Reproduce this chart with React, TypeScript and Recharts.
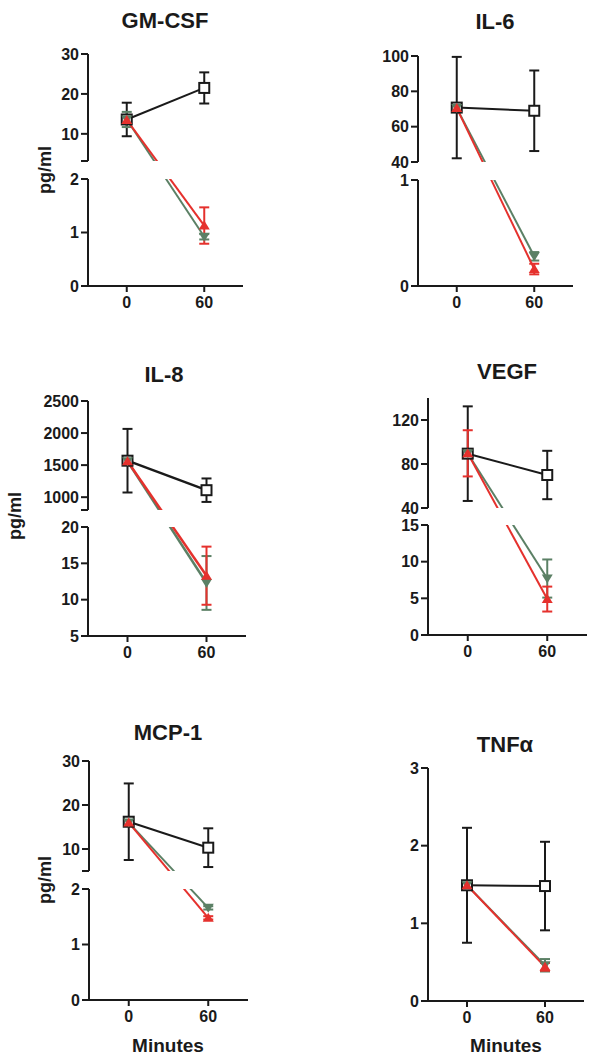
import React from 'react';
import { LineChart, Line, XAxis, YAxis, ErrorBar, ReferenceArea, ReferenceLine } from 'recharts';

const minutes = [0, 60];

// GM-CSF
const gmcsfCtrl = [13.6, 21.5];
const gmcsfCtrlSd = [4.2, 3.9];
const gmcsfRed = [13.5, 1.13];
const gmcsfRedSd = [0.8, 0.34];
const gmcsfGreen = [13.6, 0.92];
const gmcsfGreenSd = [1.9, 0.05];

// IL-6
const il6Ctrl = [70.8, 69];
const il6CtrlSd = [28.7, 22.8];
const il6Red = [70.5, 0.16];
const il6RedSd = [1, 0.05];
const il6Green = [70.5, 0.28];
const il6GreenSd = [1, 0.04];

// IL-8
const il8Ctrl = [1569, 1109];
const il8CtrlSd = [496, 183];
const il8Red = [1560, 13.3];
const il8RedSd = [20, 4.0];
const il8Green = [1560, 12.3];
const il8GreenSd = [20, 3.7];

// VEGF
const vegfCtrl = [89.4, 70];
const vegfCtrlSd = [43, 22];
const vegfRed = [89.7, 4.9];
const vegfRedSd = [21, 1.7];
const vegfGreen = [89.5, 7.7];
const vegfGreenSd = [3, 2.6];

// MCP-1
const mcpCtrl = [16.2, 10.3];
const mcpCtrlSd = [8.7, 4.4];
const mcpRed = [16, 1.48];
const mcpRedSd = [0.5, 0.03];
const mcpGreen = [16, 1.66];
const mcpGreenSd = [0.5, 0.03];

// TNFa
const tnfCtrl = [1.49, 1.48];
const tnfCtrlSd = [0.74, 0.57];
const tnfRed = [1.49, 0.44];
const tnfRedSd = [0.05, 0.05];
const tnfGreen = [1.49, 0.46];
const tnfGreenSd = [0.05, 0.08];

// y ticks (labelled) and unlabelled caps at the axis break
const gmcsfTicks = [0, 1, 2, 10, 20, 30];
const gmcsfCaps = [3.2];
const il6Ticks = [0, 1, 40, 60, 80, 100];
const il8Ticks = [5, 10, 15, 20, 1000, 1500, 2000, 2500];
const il8Caps = [800];
const vegfTicks = [0, 5, 10, 15, 40, 80, 120];
const mcpTicks = [0, 1, 2, 10, 20, 30];
const mcpCaps = [5];
const tnfTicks = [0, 1, 2, 3];

const INK = '#1a1a1a';
const RED = '#e5312d';
const GREEN = '#5b8065';
const FONT = '"Liberation Sans", Arial, sans-serif';

type Seg = [number, number];
interface Axis { bot: Seg; hb: number; top?: Seg; gap?: number; ht?: number }
interface Panel {
  title: string; col: number; plotLeft: number; plotRight: number; plotTop: number;
  axis: Axis; ticks: number[]; caps: number[];
  ctrl: number[]; ctrlSd: number[]; red: number[]; redSd: number[]; green: number[]; greenSd: number[];
  lw: number;
}

const panels: Panel[] = [
  { title: 'GM-CSF', col: 0, plotLeft: 88, plotRight: 243, plotTop: 54,
    axis: { bot: [0, 2], hb: 107, top: [3.2, 30], gap: 18, ht: 107 }, ticks: gmcsfTicks, caps: gmcsfCaps,
    ctrl: gmcsfCtrl, ctrlSd: gmcsfCtrlSd, red: gmcsfRed, redSd: gmcsfRedSd, green: gmcsfGreen, greenSd: gmcsfGreenSd, lw: 2 },
  { title: 'IL-6', col: 1, plotLeft: 418, plotRight: 573, plotTop: 56,
    axis: { bot: [0, 1], hb: 106, top: [40, 100], gap: 18, ht: 106 }, ticks: il6Ticks, caps: [],
    ctrl: il6Ctrl, ctrlSd: il6CtrlSd, red: il6Red, redSd: il6RedSd, green: il6Green, greenSd: il6GreenSd, lw: 2 },
  { title: 'IL-8', col: 0, plotLeft: 88, plotRight: 246, plotTop: 401,
    axis: { bot: [5, 20], hb: 109, top: [800, 2500], gap: 17, ht: 109 }, ticks: il8Ticks, caps: il8Caps,
    ctrl: il8Ctrl, ctrlSd: il8CtrlSd, red: il8Red, redSd: il8RedSd, green: il8Green, greenSd: il8GreenSd, lw: 2.5 },
  { title: 'VEGF', col: 1, plotLeft: 428, plotRight: 587, plotTop: 398,
    axis: { bot: [0, 15], hb: 110, top: [40, 140], gap: 17, ht: 110 }, ticks: vegfTicks, caps: [],
    ctrl: vegfCtrl, ctrlSd: vegfCtrlSd, red: vegfRed, redSd: vegfRedSd, green: vegfGreen, greenSd: vegfGreenSd, lw: 2 },
  { title: 'MCP-1', col: 0, plotLeft: 89, plotRight: 248, plotTop: 761,
    axis: { bot: [0, 2], hb: 111, top: [5, 30], gap: 18, ht: 110 }, ticks: mcpTicks, caps: mcpCaps,
    ctrl: mcpCtrl, ctrlSd: mcpCtrlSd, red: mcpRed, redSd: mcpRedSd, green: mcpGreen, greenSd: mcpGreenSd, lw: 2 },
  { title: 'TNF\u03b1', col: 1, plotLeft: 428, plotRight: 584, plotTop: 768,
    axis: { bot: [0, 3], hb: 233 }, ticks: tnfTicks, caps: [],
    ctrl: tnfCtrl, ctrlSd: tnfCtrlSd, red: tnfRed, redSd: tnfRedSd, green: tnfGreen, greenSd: tnfGreenSd, lw: 2 },
];

// piecewise (broken) axis: value -> position on the axis
const inTop = (ax: Axis, v: number) => !!ax.top && v > ax.bot[1];
const unit = (ax: Axis, v: number) =>
  inTop(ax, v) ? ax.ht! / (ax.top![1] - ax.top![0]) : ax.hb / (ax.bot[1] - ax.bot[0]);
const toAxis = (ax: Axis, v: number) =>
  inTop(ax, v) ? ax.hb + ax.gap! + (v - ax.top![0]) * unit(ax, v) : (v - ax.bot[0]) * unit(ax, v);

const Square = (props: any) => {
  const { cx, cy } = props;
  if (cx == null || cy == null) return null;
  return <rect x={cx - 5} y={cy - 5} width={10} height={10} fill="#fff" stroke={INK} strokeWidth={2} />;
};
const TriUp = (props: any) => {
  const { cx, cy } = props;
  if (cx == null || cy == null) return null;
  return <path d={`M${cx},${cy - 5} L${cx + 5.5},${cy + 4} L${cx - 5.5},${cy + 4} Z`} fill={RED} />;
};
const TriDown = (props: any) => {
  const { cx, cy } = props;
  if (cx == null || cy == null) return null;
  return <path d={`M${cx},${cy + 5} L${cx + 5.5},${cy - 4} L${cx - 5.5},${cy - 4} Z`} fill={GREEN} />;
};

const tickStyle = { fill: INK, fontSize: 16, fontWeight: 'bold', fontFamily: FONT };

const PanelChart = ({ p }: { p: Panel }) => {
  const ax = p.axis;
  const total = ax.hb + (ax.top ? ax.gap! + ax.ht! : 0);
  const left = p.col === 0 ? 0 : 300;
  const mTop = 20;
  const yw = 60;
  const xh = 34;

  const rows = minutes.map((m, i) => ({
    m,
    ctrl: toAxis(ax, p.ctrl[i]),
    ctrlErr: p.ctrlSd[i] * unit(ax, p.ctrl[i]),
    red: toAxis(ax, p.red[i]),
    redErr: p.redSd[i] * unit(ax, p.red[i]),
    green: toAxis(ax, p.green[i]),
    greenErr: p.greenSd[i] * unit(ax, p.green[i]),
  }));

  const tickPos = [...p.ticks, ...p.caps].map((t) => toAxis(ax, t));
  const label = (val: number) => {
    const hit = p.ticks.find((t) => Math.abs(toAxis(ax, t) - val) < 0.01);
    return hit === undefined ? '' : String(hit);
  };

  return (
    <div style={{ position: 'absolute', left, top: p.plotTop - mTop }}>
      <LineChart
        width={300}
        height={mTop + total + xh}
        data={rows}
        margin={{ top: mTop, right: left + 300 - p.plotRight, bottom: 0, left: p.plotLeft - left - yw }}
      >
        <XAxis
          dataKey="m" type="number" domain={[-30, 90]} ticks={minutes} height={xh}
          axisLine={{ stroke: INK, strokeWidth: 2 }} tickLine={{ stroke: INK, strokeWidth: 2 }}
          tickSize={6} tickMargin={5} tick={tickStyle}
        />
        <YAxis
          type="number" domain={[0, total]} ticks={tickPos} interval={0} width={yw}
          axisLine={false} tickLine={{ stroke: INK, strokeWidth: 2 }} tickSize={7} tickMargin={2}
          tick={tickStyle} tickFormatter={label} allowDataOverflow
        />
        <ReferenceLine segment={[{ x: -30, y: 0 }, { x: -30, y: ax.hb }]} stroke={INK} strokeWidth={2} ifOverflow="visible" />
        {ax.top && (
          <ReferenceLine segment={[{ x: -30, y: ax.hb + ax.gap! }, { x: -30, y: total }]} stroke={INK} strokeWidth={2} ifOverflow="visible" />
        )}
        <Line type="linear" dataKey="ctrl" stroke={INK} strokeWidth={p.lw} dot={<Square />} isAnimationActive={false}>
          <ErrorBar dataKey="ctrlErr" direction="y" width={5} stroke={INK} strokeWidth={2} isAnimationActive={false} />
        </Line>
        <Line type="linear" dataKey="green" stroke={GREEN} strokeWidth={p.lw} dot={<TriDown />} isAnimationActive={false}>
          <ErrorBar dataKey="greenErr" direction="y" width={5} stroke={GREEN} strokeWidth={2} isAnimationActive={false} />
        </Line>
        <Line type="linear" dataKey="red" stroke={RED} strokeWidth={p.lw} dot={<TriUp />} isAnimationActive={false}>
          <ErrorBar dataKey="redErr" direction="y" width={5} stroke={RED} strokeWidth={2} isAnimationActive={false} />
        </Line>
        {ax.top && (
          <ReferenceArea
            x1={-30} x2={90} y1={ax.hb} y2={ax.hb + ax.gap!}
            fill="#fff" fillOpacity={1} stroke="none" ifOverflow="visible" {...({ zIndex: 2000 } as any)}
          />
        )}
      </LineChart>
    </div>
  );
};

const text = (s: string, x: number, y: number, size: number, rotate = false) => (
  <div
    key={s + x + y}
    style={{
      position: 'absolute', left: x, top: y, transform: `translate(-50%, -50%)${rotate ? ' rotate(-90deg)' : ''}`,
      fontFamily: FONT, fontWeight: 'bold', fontSize: size, color: INK, whiteSpace: 'nowrap', lineHeight: 1,
    }}
  >
    {s}
  </div>
);

const titlePos: [number, number][] = [[165, 21], [495, 22], [164, 375], [507, 372], [168, 733], [505, 745]];

export default function App() {
  return (
    <div style={{ position: 'absolute', left: 0, top: 0, width: 600, height: 1054, background: '#fff', overflow: 'hidden' }}>
      {panels.map((p) => (
        <PanelChart key={p.title} p={p} />
      ))}
      {panels.map((p, i) => text(p.title, titlePos[i][0], titlePos[i][1], 22))}
      {text('pg/ml', 45, 170, 18, true)}
      {text('pg/ml', 15, 516, 18, true)}
      {text('pg/ml', 45, 880, 18, true)}
      {text('Minutes', 168, 1045, 19)}
      {text('Minutes', 506, 1045, 19)}
    </div>
  );
}
